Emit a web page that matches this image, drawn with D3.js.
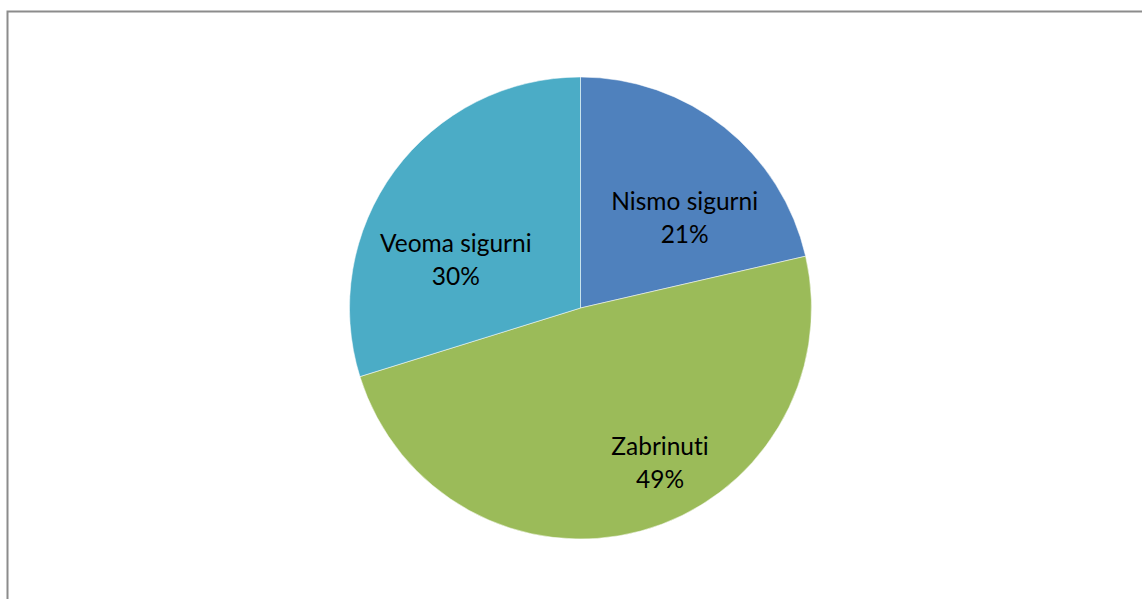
<!DOCTYPE html>
<html>
<head>
<meta charset="utf-8">
<script src="https://cdn.jsdelivr.net/npm/d3@7"></script>
<style>
  html, body { margin: 0; padding: 0; background: #fff; overflow: hidden; }
</style>
</head>
<body>
<div id="chart"></div>
<script>
// data
var categories = ["Nismo sigurni", "Zabrinuti", "Veoma sigurni"]
var values = [21.4, 48.8, 29.8]
var colors = ["#4F81BD", "#9BBB59", "#4BACC6"]

var width = 1142
var height = 599
var cx = 580.5, cy = 308, radius = 231

var svg = d3.select("#chart")
  .append("svg")
  .attr("width", width)
  .attr("height", height)

// chart frame (runs off the right and bottom edge)
svg.append("rect")
  .attr("x", 7.5).attr("y", 11.5)
  .attr("width", width + 20).attr("height", height + 20)
  .attr("fill", "none")
  .attr("stroke", "#8c8c8c")
  .attr("stroke-width", 2)

var g = svg.append("g")
  .attr("transform", "translate(" + cx + "," + cy + ")")

var data = categories.map(function(c, i){ return {key: c, value: values[i], color: colors[i]} })
var total = d3.sum(values)

var pie = d3.pie()
  .value(function(d){ return d.value })
  .sort(null)

var arcs = pie(data)

var arc = d3.arc().innerRadius(0).outerRadius(radius)
var labelArc = d3.arc().innerRadius(140).outerRadius(140)

g.selectAll("path")
  .data(arcs)
  .enter()
  .append("path")
  .attr("d", arc)
  .attr("fill", function(d){ return d.data.color })
  .attr("stroke", "#ffffff")
  .attr("stroke-opacity", 0.5)
  .style("stroke-width", "1px")

// best-fit style offsets, like the spreadsheet places them
var nudge = [[17, 12], [43, 12], [-12, 27]]

var lbl = g.selectAll("text.chartLabel")
  .data(arcs)
  .enter()
  .append("text")
  .attr("class", "chartLabel")
  .attr("transform", function(d, i){
    var c = labelArc.centroid(d)
    return "translate(" + (c[0] + nudge[i][0]) + "," + (c[1] + nudge[i][1]) + ")"
  })
  .style("text-anchor", "middle")
  .style("font-family", "Lato, 'Open Sans', sans-serif")
  .style("font-size", "24.5px")
  .style("font-variant-ligatures", "none")
  .style("fill", "#000")

lbl.append("tspan")
  .attr("x", 0).attr("dy", 0)
  .text(function(d){ return d.data.key })
lbl.append("tspan")
  .attr("x", 0).attr("dy", 32.5)
  .text(function(d){ return Math.round(d.data.value * 100 / total) + "%" })
</script>
</body>
</html>
